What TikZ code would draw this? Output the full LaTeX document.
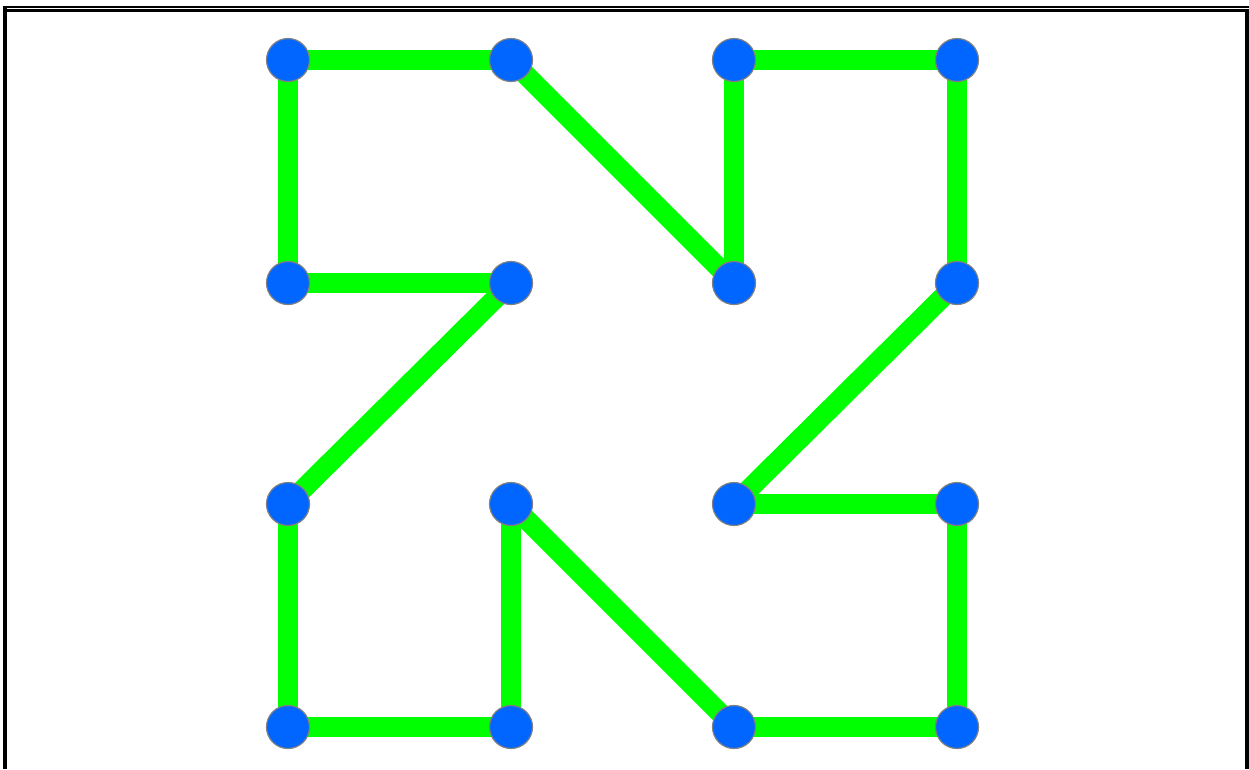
\documentclass[tikz,border=0pt]{standalone}
\usetikzlibrary{backgrounds}
\definecolor{nodeblue}{HTML}{0066FF}
\definecolor{edgegreen}{HTML}{00FF00}
\begin{document}
\begin{tikzpicture}[x=1pt,y=-1pt,
  dot/.style={circle,fill=nodeblue,draw=gray,line width=1.2pt,minimum size=43pt,inner sep=0pt},
  edge/.style={draw=edgegreen,line width=20pt}]
\useasboundingbox (0,0) rectangle (1249,769);
% frame
\fill[black] (3,6) rectangle (1249,8);
\fill[black] (7,9.3) rectangle (1245,12);
\fill[black] (3,6) rectangle (7,769);
\fill[black] (1245,9.3) rectangle (1249,769);
% nodes
\foreach \c [count=\i] in {288,511,734,957}{
  \foreach \r [count=\j] in {60,283,504,727}{
    \node[dot] (n\i\j) at (\c,\r) {};
  }
}
\begin{scope}[on background layer]
\foreach \a/\b in {11/21,11/12,12/22,21/32,31/32,31/41,41/42,42/33,
                   33/43,43/44,44/34,34/23,23/24,24/14,14/13,13/22}{
  \path[edge] (n\a.center) -- (n\b.center);
}
\end{scope}
\end{tikzpicture}
\end{document}
